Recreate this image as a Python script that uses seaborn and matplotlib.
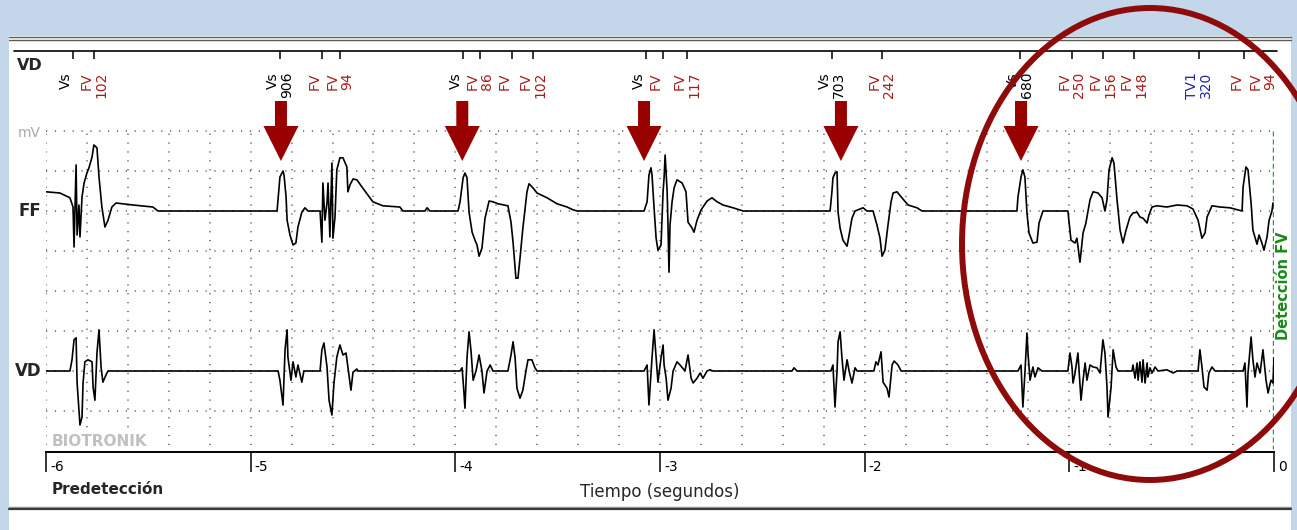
import numpy as np
import matplotlib
matplotlib.use("Agg")
import matplotlib.pyplot as plt
from matplotlib.patches import Ellipse, Rectangle, FancyArrow
from matplotlib.transforms import ScaledTranslation
import seaborn as sns

sns.set_style("white")
plt.rcParams['font.family'] = ['DejaVu Sans']
plt.rcParams['axes.unicode_minus'] = False

# far-field (FF) electrogram, time in s before detection, amplitude in mV
ff_t = [-6.000, -5.932, -5.883, -5.868, -5.863, -5.858, -5.853, -5.848, -5.839, -5.834,
        -5.824, -5.814, -5.800, -5.790, -5.775, -5.766, -5.751, -5.741, -5.727, -5.712,
        -5.697, -5.678, -5.658, -5.575, -5.478, -5.453, -4.871,
        -4.857, -4.842, -4.837, -4.827, -4.822, -4.808, -4.793, -4.779, -4.769, -4.750,
        -4.735, -4.720, -4.661, -4.652, -4.647, -4.637, -4.627, -4.622, -4.613, -4.603,
        -4.598, -4.588, -4.579, -4.564, -4.549, -4.530, -4.525, -4.515, -4.500, -4.481,
        -4.456, -4.403, -4.354, -4.271, -4.256, -4.148, -4.138, -4.124,
        -3.987, -3.977, -3.962, -3.953, -3.943, -3.933, -3.918, -3.904, -3.894, -3.884,
        -3.870, -3.855, -3.835, -3.816, -3.791, -3.743, -3.728, -3.718, -3.704, -3.694,
        -3.684, -3.670, -3.650, -3.640, -3.621, -3.601, -3.552, -3.503, -3.454, -3.425,
        -3.405, -3.078,
        -3.063, -3.054, -3.044, -3.039, -3.029, -3.019, -3.010, -2.995, -2.985, -2.980,
        -2.975, -2.965, -2.961, -2.956, -2.951, -2.941, -2.931, -2.917, -2.892, -2.873,
        -2.863, -2.843, -2.834, -2.819, -2.799, -2.770, -2.746, -2.721, -2.692, -2.658,
        -2.643, -2.594, -2.169,
        -2.160, -2.155, -2.145, -2.135, -2.130, -2.120, -2.106, -2.086, -2.076, -2.062,
        -2.047, -2.023, -2.008, -1.989, -1.959, -1.940, -1.925, -1.915, -1.901, -1.886,
        -1.871, -1.861, -1.842, -1.818, -1.788, -1.744, -1.720, -1.256,
        -1.251, -1.236, -1.227, -1.217, -1.207, -1.197, -1.178, -1.158, -1.148, -1.129,
        -1.007, -0.992, -0.972, -0.963, -0.948, -0.933, -0.919, -0.899, -0.884, -0.860,
        -0.840, -0.826, -0.816, -0.806, -0.791, -0.782, -0.767, -0.752, -0.738, -0.723,
        -0.704, -0.689, -0.669, -0.655, -0.640, -0.620, -0.611, -0.596, -0.572, -0.523,
        -0.474, -0.425, -0.396, -0.371, -0.352, -0.337, -0.327, -0.303, -0.264, -0.215,
        -0.156, -0.151, -0.137, -0.127, -0.112, -0.103, -0.083, -0.073, -0.059, -0.049,
        -0.034, -0.024, -0.010, -0.005]
ff_mv = [0.48, 0.45, 0.33, 0.10, -0.90, 0.15, 1.15, -0.60, 0.15, -0.65,
         0.35, 0.70, 0.95, 1.08, 1.35, 1.65, 1.58, 0.85, 0.10, -0.40,
         -0.23, 0.10, 0.20, 0.15, 0.10, 0.00, 0.00,
         0.85, 1.00, 0.90, 0.35, -0.23, -0.60, -0.85, -0.80, -0.40, -0.03,
         0.08, 0.00, 0.00, -0.78, 0.70, -0.23, 0.20, 0.70, -0.65, 1.20,
         -0.68, -0.15, 1.03, 1.33, 1.33, 1.10, 0.48, 0.65, 0.80, 0.78,
         0.60, 0.23, 0.13, 0.10, 0.00, 0.00, 0.08, 0.00,
         0.00, 0.23, 0.83, 0.95, 0.83, -0.03, -0.53, -0.73, -0.85, -1.13,
         -0.93, -0.18, 0.25, 0.23, 0.18, 0.13, -0.28, -0.78, -1.68, -1.68,
         -1.18, -0.43, 0.48, 0.68, 0.58, 0.45, 0.33, 0.18, 0.10, 0.03,
         0.00, 0.00,
         0.23, 0.90, 1.08, 0.90, 0.08, -0.68, -0.98, -0.85, 0.48, 0.83,
         1.40, 0.48, -0.35, -1.53, -0.35, 0.23, 0.58, 0.78, 0.70, 0.48,
         -0.28, -0.43, -0.53, -0.23, 0.03, 0.25, 0.33, 0.23, 0.15, 0.10,
         0.08, 0.00, 0.00,
         0.48, 0.83, 0.95, 0.98, -0.03, -0.43, -0.73, -0.88, -0.60, -0.18,
         0.00, 0.05, 0.08, 0.00, 0.00, -0.35, -0.68, -1.13, -0.98, -0.35,
         0.23, 0.45, 0.48, 0.33, 0.15, 0.08, 0.00, 0.00,
         0.35, 0.85, 1.03, 0.85, -0.05, -0.55, -0.80, -0.78, -0.30, 0.00,
         0.00, -0.73, -0.80, -0.68, -1.28, -0.55, -0.30, 0.28, 0.48, 0.45,
         0.33, 0.00, 0.28, 1.03, 1.33, 1.20, 0.28, -0.48, -0.80, -0.48,
         -0.15, -0.05, -0.03, -0.15, -0.18, -0.30, -0.10, 0.10, 0.13, 0.10,
         0.15, 0.13, 0.05, -0.23, -0.68, -0.55, -0.15, 0.13, 0.10, 0.08,
         0.00, 0.60, 1.10, 1.03, 0.20, -0.48, -0.83, -0.60, -0.80, -0.98,
         -0.65, -0.23, 0.00, 0.20]

# ventricular (VD) electrogram
vd_t = [-6.000, -5.883, -5.873, -5.863, -5.853, -5.848, -5.834, -5.824, -5.819, -5.810,
        -5.795, -5.775, -5.770, -5.761, -5.751, -5.741, -5.731, -5.722, -5.707, -5.697,
        -4.866, -4.857, -4.842, -4.832, -4.822, -4.818, -4.803, -4.793, -4.779, -4.769,
        -4.750, -4.740, -4.661, -4.652, -4.642, -4.627, -4.617, -4.603, -4.593, -4.579,
        -4.564, -4.549, -4.534, -4.525, -4.510, -4.500, -4.481, -4.476,
        -3.977, -3.967, -3.958, -3.953, -3.943, -3.933, -3.923, -3.913, -3.899, -3.884,
        -3.870, -3.860, -3.845, -3.830, -3.816, -3.743, -3.728, -3.718, -3.708, -3.699,
        -3.684, -3.670, -3.655, -3.645, -3.626, -3.611, -3.601,
        -3.078, -3.063, -3.054, -3.039, -3.029, -3.019, -3.010, -2.995, -2.985, -2.980,
        -2.970, -2.961, -2.946, -2.936, -2.917, -2.902, -2.878, -2.863, -2.848, -2.838,
        -2.819, -2.804, -2.790, -2.770, -2.756, -2.741, -2.355, -2.345, -2.331,
        -2.165, -2.155, -2.145, -2.135, -2.130, -2.120, -2.111, -2.101, -2.086, -2.076,
        -2.062, -2.047, -2.037, -1.955, -1.945, -1.935, -1.920, -1.910, -1.891, -1.881,
        -1.866, -1.856, -1.837, -1.822,
        -1.251, -1.236, -1.227, -1.217, -1.207, -1.202, -1.192, -1.178, -1.168, -1.153,
        -1.134, -1.007, -0.997, -0.987, -0.982, -0.972, -0.963, -0.958, -0.943, -0.933,
        -0.923, -0.914, -0.899, -0.884, -0.865, -0.850, -0.836, -0.826, -0.816, -0.811,
        -0.796, -0.786, -0.772, -0.762, -0.694, -0.689, -0.679, -0.669, -0.664, -0.655,
        -0.645, -0.640, -0.630, -0.620, -0.616, -0.606, -0.596, -0.581, -0.567, -0.523,
        -0.493, -0.474, -0.371, -0.362, -0.352, -0.342, -0.327, -0.318, -0.303, -0.288,
        -0.151, -0.142, -0.132, -0.127, -0.112, -0.103, -0.093, -0.083, -0.068, -0.054,
        -0.039, -0.029, -0.015, -0.005, 0.000]
vd_mv = [0, 0, 0.28, 0.78, 0.83, -0.30, -1.35, -1.15, -0.30, 0.23,
         0.28, 0.23, -0.40, -0.73, 0.45, 1.03, 0.10, -0.28, -0.10, 0,
         0, -0.23, -0.85, 0.53, 1.03, 0.35, -0.23, 0.23, -0.15, 0.15,
         -0.28, 0, 0, 0.53, 0.70, 0.10, -0.73, -1.10, -0.30, 0.35,
         0.65, 0.40, 0.45, 0.10, -0.48, -0.03, 0.05, 0,
         0, 0.08, -0.53, -0.93, 0.33, 0.98, 0.48, -0.23, 0, 0.40,
         0, -0.55, 0, 0.15, 0, 0, 0.40, 0.73, 0.33, -0.43,
         -0.68, -0.48, 0, 0.28, 0.28, 0.08, 0,
         0, 0.15, -0.85, 0.33, 1.03, 0.33, -0.28, 0.33, 0.65, 0.15,
         -0.18, -0.73, -0.43, 0, 0.23, 0.15, 0, 0.40, -0.18, -0.30,
         -0.18, -0.05, -0.18, 0, 0.03, 0, 0, 0.08, 0,
         0, 0.15, -0.90, 0, 0.73, 0.98, 0.33, -0.23, 0.28, 0,
         -0.30, 0.08, 0, 0, 0.23, 0.15, 0.48, -0.28, -0.43, -0.65,
         0.15, 0.25, 0.15, 0,
         0, 0.15, -0.90, -0.05, 0.95, 0.45, -0.23, 0.10, -0.15, 0.08,
         0, 0, 0.45, 0.10, -0.30, -0.05, 0.28, 0.45, -0.73, -0.23,
         0.20, -0.23, 0.15, 0.10, 0.08, -0.05, 0.78, 0.45, -0.40, -1.15,
         -0.40, 0.53, 0.10, 0, 0, 0.15, -0.18, 0.20, -0.23, 0.23,
         -0.28, 0.28, -0.30, 0.20, -0.15, 0.08, -0.05, 0.10, 0, 0.03,
         -0.05, 0, 0, 0.53, 0.10, -0.40, -0.48, -0.05, 0.10, 0,
         0, 0.20, -0.90, -0.05, 0.85, 0.28, -0.15, 0.20, -0.05, 0.53,
         -0.23, -0.55, -0.23, -0.30, 0.33]

# device event markers
mark_t = [-5.868, -5.766, -4.857, -4.652, -4.564, -3.963, -3.880, -3.724, -3.621,
          -3.069, -2.986, -2.869, -2.160, -1.916, -1.242, -0.988, -0.836, -0.685,
          -0.367, -0.148, -0.055]
mark_kind = ['Vs', 'FV', 'Vs', 'FV', 'FV', 'Vs', 'FV', 'FV', 'FV',
             'Vs', 'FV', 'FV', 'Vs', 'FV', 'Vs', 'FV', 'FV', 'FV',
             'TV1', 'FV', 'FV']
mark_ms = ['', '102', '906', '', '94', '', '86', '', '102',
           '', '', '117', '703', '242', '680', '250', '156', '148',
           '320', '', '94']

arrow_t = [-4.852, -3.966, -3.078, -2.116, -1.236]
sec_ticks = [-6, -5, -4, -3, -2, -1, 0]
sec_labels = ['-6', '-5', '-4', '-3', '-2', '-1', '0']
detect_t = -0.006

kind_color = {'Vs': 'black', 'FV': '#a81c1c', 'TV1': '#2323a8'}
vd_base = -4.0

W, H = 1297, 530
fig = plt.figure(figsize=(W / 100, H / 100), dpi=100)
fig.patch.set_facecolor('#c4d7ea')

# pixel-space layer for the window frame
bg = fig.add_axes([0, 0, 1, 1], zorder=0)
bg.set_xlim(0, W)
bg.set_ylim(H, 0)
bg.axis('off')
bg.add_patch(Rectangle((9, 36), 1282, 494, facecolor='white', edgecolor='none'))
bg.plot([9, 1291], [36.5, 36.5], color='#5a5a5a', lw=1)
bg.plot([9, 1291], [39.5, 39.5], color='#5a5a5a', lw=1)
bg.plot([9, 1291], [506.5, 506.5], color='#9a9a9a', lw=1)
bg.plot([9, 1291], [509, 509], color='#3a3a3a', lw=1.6)

bg.text(43, 65, 'VD', ha='right', va='center', fontsize=11.5, fontweight='bold')
bg.text(41, 133, 'mV', ha='right', va='center', fontsize=10, color='#a8a8a8')
bg.text(41, 211, 'FF', ha='right', va='center', fontsize=12, fontweight='bold')
bg.text(42, 371, 'VD', ha='right', va='center', fontsize=12, fontweight='bold')
bg.text(52, 490, 'Predetección', ha='left', va='center', fontsize=11, fontweight='bold')
bg.text(1284, 286, 'Detección FV', rotation=90, ha='center', va='center',
        fontsize=10.5, fontweight='bold', color='#1a8a1a')

# main strip: x in seconds, y in mV (VD drawn 4 mV below FF)
ax = fig.add_axes([46 / W, (H - 452) / H, 1228 / W, 401 / H], zorder=1)
ax.set_facecolor('none')
ax.set_xlim(-6, 0)
ax.set_ylim(-6.025, 4.0)

dots = (0, (0.8, 5.0))
for gy in range(-5, 3):
    ax.plot([-6, 0], [gy, gy], color='#5e5e5e', lw=1.1, ls=dots, zorder=1)
for gx in np.linspace(-6, -0.2, 30):
    ax.plot([gx, gx], [-5.85, 2], color='#5e5e5e', lw=1.1, ls=dots, zorder=1)

ax.text(52, 442, 'BIOTRONIK', transform=bg.transData, ha='left', va='center',
        fontsize=11, fontweight='bold', color='#c0c0c0', zorder=3,
        bbox=dict(facecolor='white', edgecolor='none', pad=1))

sns.lineplot(x=ff_t, y=ff_mv, ax=ax, sort=False, estimator=None,
             color='black', lw=1.2, zorder=4)
sns.lineplot(x=vd_t, y=np.array(vd_mv) + vd_base, ax=ax, sort=False,
             estimator=None, color='black', lw=1.2, zorder=4)

ax.plot([detect_t, detect_t], [2.0, -5.95], color='#2e9e2e', lw=1,
        ls=(0, (3.6, 2.2)), zorder=3)

# marker channel on top
ax.axhline(4.0, xmin=-0.026, xmax=1.0024, color='black', lw=1.2, clip_on=False)
ax.vlines(mark_t, 3.8, 4.0, colors='black', lw=1.1)
for t, kind, ms in zip(mark_t, mark_kind, mark_ms):
    if ms:
        ax.text(t, 3.475, kind + '\n' + ms, rotation=90, ha='center', va='top',
                multialignment='right', fontsize=10, linespacing=1.05,
                color=kind_color[kind])
    else:
        ax.text(t, 3.475, kind, rotation=90, ha='right', va='top',
                fontsize=10, color=kind_color[kind])

for t in arrow_t:
    ax.add_patch(FancyArrow(t, 2.75, 0, -1.5, width=0.0586, head_width=0.171,
                            head_length=0.875, length_includes_head=True,
                            color='#990000', lw=0, zorder=6))

ax.add_patch(Ellipse((1150, 244), 376, 472, transform=bg.transData, fill=False,
                     edgecolor='#8e0b0b', lw=4.3, clip_on=False, zorder=10))

sns.despine(ax=ax, left=True)
ax.spines['bottom'].set_linewidth(1.4)
ax.spines['bottom'].set_color('black')
ax.set_yticks([])
ax.set_xticks(sec_ticks)
ax.set_xticklabels(sec_labels, fontsize=10)
ax.tick_params(axis='x', bottom=True, direction='out', length=14.4, width=1.1,
               pad=-8.6, colors='black')
shift = ScaledTranslation(4 / 100, 0, fig.dpi_scale_trans)
for lbl in ax.get_xticklabels():
    lbl.set_horizontalalignment('left')
    lbl.set_transform(lbl.get_transform() + shift)
ax.set_xlabel('Tiempo (segundos)', fontsize=12)
ax.xaxis.set_label_coords(0.5, -0.077)
ax.set_ylabel('')

fig.savefig('out.png', dpi=100, facecolor=fig.get_facecolor())
